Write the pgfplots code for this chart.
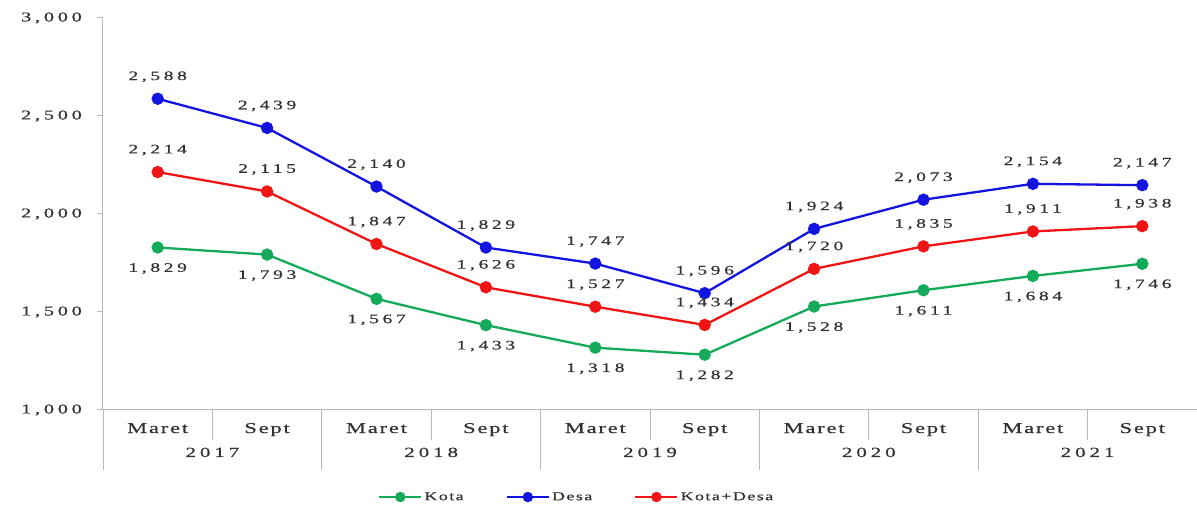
\documentclass[border=0pt]{standalone}
\usepackage{fontspec}
\setmainfont{Liberation Serif}[FakeStretch=1.5, LetterSpace=12, FakeBold=0.6]
\newfontfamily\numfont{Liberation Serif}[FakeStretch=1.5, LetterSpace=28, FakeBold=0.6]
\usepackage{pgfplots}
\pgfplotsset{compat=1.18}
\definecolor{cKota}{RGB}{20,170,90}
\definecolor{cDesa}{RGB}{20,20,225}
\definecolor{cKD}{RGB}{240,20,20}
\definecolor{axgray}{RGB}{185,185,185}
\definecolor{txt}{RGB}{50,50,50}
\begin{document}
\begin{tikzpicture}
\begin{axis}[
  scale only axis, width=1094pt, height=392pt,
  xmin=0, xmax=10, ymin=1000, ymax=3000,
  axis x line*=bottom, axis y line*=left,
  axis line style={axgray, line width=1pt, -},
  xtick={0.5,1.5,...,9.5},
  xticklabels={Maret,Sept,Maret,Sept,Maret,Sept,Maret,Sept,Maret,Sept},
  xticklabel style={anchor=base, yshift=-17pt, font=\fontsize{15}{17}\selectfont, text=txt},
  x tick style={draw=none},
  ytick={1000,1500,2000,2500,3000},
  yticklabels={{1,000},{1,500},{2,000},{2,500},{3,000}},
  yticklabel style={anchor=east, inner sep=0pt, xshift=-14pt, font=\numfont\fontsize{13.5}{15}\selectfont, text=txt},
  y tick style={axgray, line width=1pt},
  tick align=outside, major tick length=6pt,
  clip=false,
  line width=2.3pt,
  every mark/.append style={xscale=1.25},
  mark size=5pt,
  point meta=y,
  nodes near coords={\pgfmathprintnumber[assume math mode=true, 1000 sep={,}, fixed, precision=0]{\pgfplotspointmeta}},
  every node near coord/.append style={font=\numfont\fontsize{13}{15}\selectfont, text=txt, anchor=center},
  legend style={at={(0.433,-0.222)}, anchor=center, legend columns=-1, draw=none, fill=none,
     font=\fontsize{12}{13}\selectfont, text=txt,
     /tikz/every even column/.append style={column sep=40pt}},
  legend image code/.code={\draw[mark repeat=2,mark phase=2,#1, mark size=4pt] plot coordinates {(0pt,0pt) (21pt,0pt) (42pt,0pt)};},
]
\addplot[color=cKota, mark=*, every node near coord/.append style={yshift=-21pt}] coordinates {
(0.5,1829) (1.5,1793) (2.5,1567) (3.5,1433) (4.5,1318) (5.5,1282) (6.5,1528) (7.5,1611) (8.5,1684) (9.5,1746)};
\addlegendentry{Kota}
\addplot[color=cDesa, mark=*, every node near coord/.append style={yshift=22pt}] coordinates {
(0.5,2588) (1.5,2439) (2.5,2140) (3.5,1829) (4.5,1747) (5.5,1596) (6.5,1924) (7.5,2073) (8.5,2154) (9.5,2147)};
\addlegendentry{Desa\hspace{-8pt}}
\addplot[color=cKD, mark=*, every node near coord/.append style={yshift=22pt}] coordinates {
(0.5,2214) (1.5,2115) (2.5,1847) (3.5,1626) (4.5,1527) (5.5,1434) (6.5,1720) (7.5,1835) (8.5,1911) (9.5,1938)};
\addlegendentry{Kota+Desa}
% category separators
\pgfplotsinvokeforeach{1,3,5,7,9}{\draw[axgray, line width=0.8pt] (axis cs:#1,1000) -- ([yshift=-30pt]axis cs:#1,1000);}
\pgfplotsinvokeforeach{0,2,4,6,8,10}{\draw[axgray, line width=0.8pt] (axis cs:#1,1000) -- ([yshift=-60pt]axis cs:#1,1000);}
\node[anchor=base, inner sep=0pt, font=\numfont\fontsize{14}{16}\selectfont, text=txt] at ([yshift=-47pt]axis cs:1,1000) {2017};
\node[anchor=base, inner sep=0pt, font=\numfont\fontsize{14}{16}\selectfont, text=txt] at ([yshift=-47pt]axis cs:3,1000) {2018};
\node[anchor=base, inner sep=0pt, font=\numfont\fontsize{14}{16}\selectfont, text=txt] at ([yshift=-47pt]axis cs:5,1000) {2019};
\node[anchor=base, inner sep=0pt, font=\numfont\fontsize{14}{16}\selectfont, text=txt] at ([yshift=-47pt]axis cs:7,1000) {2020};
\node[anchor=base, inner sep=0pt, font=\numfont\fontsize{14}{16}\selectfont, text=txt] at ([yshift=-47pt]axis cs:9,1000) {2021};
\end{axis}
\pgfresetboundingbox
\path (-103pt,-101pt) rectangle (1094pt,410pt);
\end{tikzpicture}
\end{document}
